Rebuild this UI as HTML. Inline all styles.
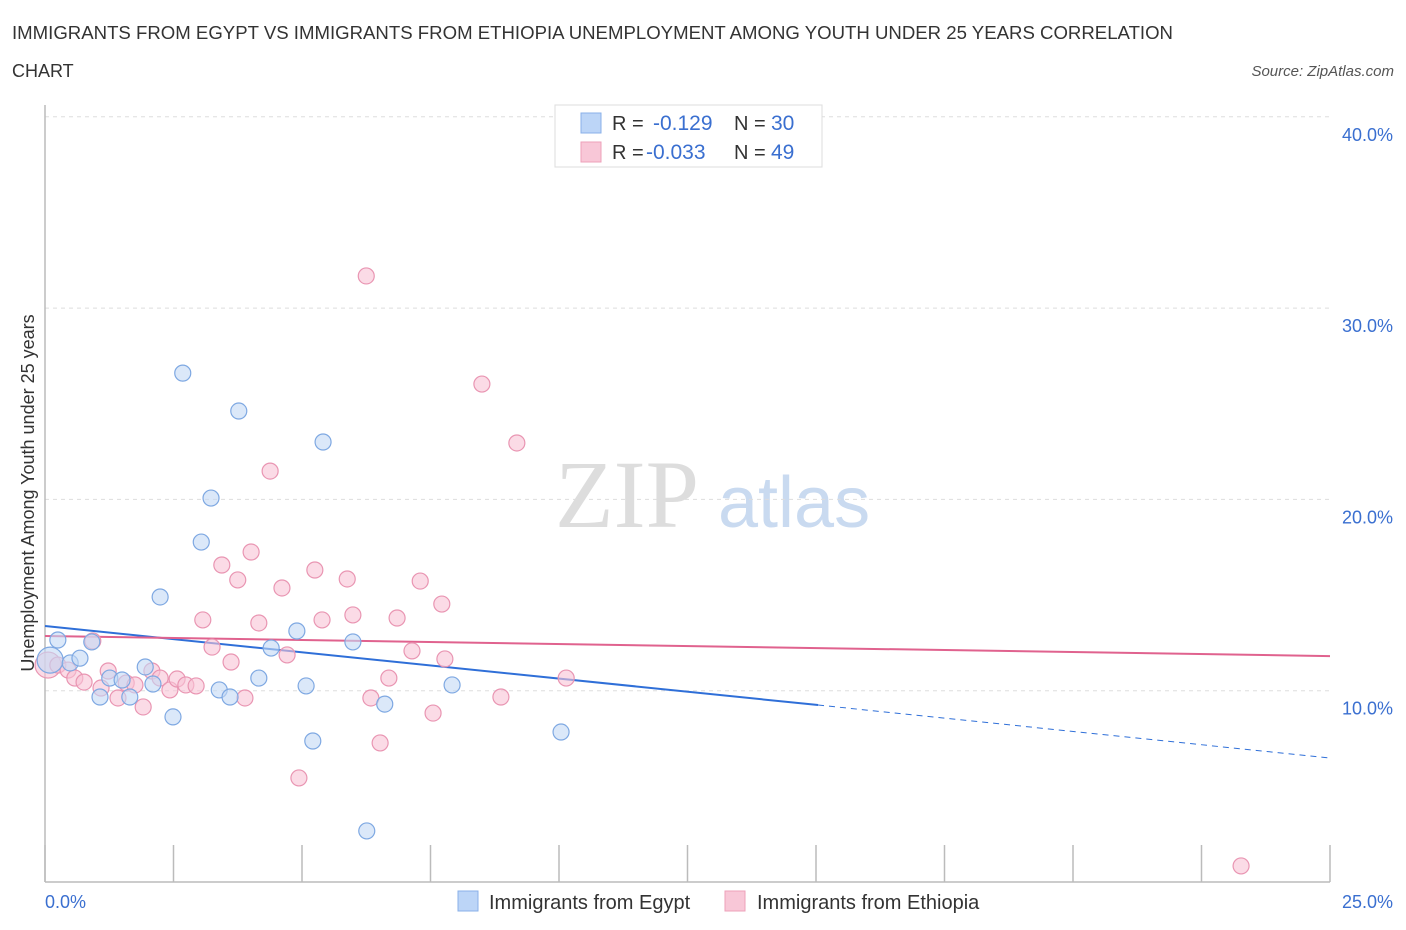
<!DOCTYPE html>
<html><head><meta charset="utf-8"><style>
body{margin:0;background:#fff;font-family:"Liberation Sans",sans-serif;}
svg{display:block}
</style></head><body>
<svg id="c" width="1406" height="930" xmlns="http://www.w3.org/2000/svg">
<text x="12" y="39" font-size="18" fill="#333" textLength="1161" lengthAdjust="spacingAndGlyphs">IMMIGRANTS FROM EGYPT VS IMMIGRANTS FROM ETHIOPIA UNEMPLOYMENT AMONG YOUTH UNDER 25 YEARS CORRELATION</text>
<text x="12" y="77" font-size="18" fill="#333">CHART</text>
<text x="1394" y="76" font-size="15" fill="#555" font-style="italic" text-anchor="end">Source: ZipAtlas.com</text>
<g>
<text x="555" y="527" font-size="96" font-family="Liberation Serif,serif" fill="#ddd">ZIP</text>
<text x="718" y="527" font-size="72" fill="#c9daf0">atlas</text>
</g>
<g id="grid"></g>
<g id="axes"></g>
<g id="lines"></g>
<g id="pts"></g>
<text transform="translate(34,493) rotate(-90)" font-size="18" fill="#333" text-anchor="middle">Unemployment Among Youth under 25 years</text>
<text x="45" y="908" font-size="18" fill="#3a6fd0">0.0%</text>
<text x="1393" y="908" font-size="18" fill="#3a6fd0" text-anchor="end">25.0%</text>
<g>
<rect x="555" y="105" width="267" height="62" fill="#fff" stroke="#ddd"/>
<rect x="581" y="113" width="20" height="20" fill="#bcd5f7" stroke="#8ab0e8"/>
<rect x="581" y="142" width="20" height="20" fill="#f8c7d7" stroke="#eea0ba"/>
<text x="612" y="130" font-size="20" fill="#333">R =</text>
<text x="653" y="130" font-size="21" fill="#3a6fd0">-0.129</text>
<text x="734" y="130" font-size="20" fill="#333">N =</text>
<text x="771" y="130" font-size="21" fill="#3a6fd0">30</text>
<text x="612" y="159" font-size="20" fill="#333">R =</text>
<text x="646" y="159" font-size="21" fill="#3a6fd0">-0.033</text>
<text x="734" y="159" font-size="20" fill="#333">N =</text>
<text x="771" y="159" font-size="21" fill="#3a6fd0">49</text>
</g>
<g>
<rect x="458" y="891" width="20" height="20" fill="#bcd5f7" stroke="#8ab0e8"/>
<text x="489" y="909" font-size="20" fill="#333">Immigrants from Egypt</text>
<rect x="725" y="891" width="20" height="20" fill="#f8c7d7" stroke="#eea0ba"/>
<text x="757" y="909" font-size="20" fill="#333">Immigrants from Ethiopia</text>
</g>
</svg>
<script>
const yTicks=[10,20,30,40];
const yTickLabels=["10.0%","20.0%","30.0%","40.0%"];
const xTicks=[0,2.5,5,7.5,10,12.5,15,17.5,20,22.5,25];
const egyptX=[0.1,0.25,0.49,0.68,0.91,1.07,1.26,1.5,1.65,1.95,2.1,2.24,2.49,2.68,3.04,3.23,3.39,3.6,3.77,4.16,4.4,4.9,5.08,5.21,5.41,5.99,6.26,6.61,7.92,10.04];
const egyptY=[11.6,12.65,11.45,11.7,12.55,9.67,10.66,10.56,9.67,11.24,10.35,14.9,8.63,26.6,17.77,20.07,10.04,9.67,24.62,10.66,12.23,13.12,10.25,7.37,23.0,12.55,2.67,9.3,10.3,7.84];
const ethX=[0.06,0.25,0.45,0.58,0.76,0.93,1.09,1.23,1.42,1.58,1.75,1.91,2.08,2.24,2.43,2.57,2.74,2.94,3.07,3.25,3.44,3.62,3.75,3.89,4.01,4.16,4.38,4.61,4.71,4.94,5.25,5.39,5.88,5.99,6.25,6.34,6.52,6.69,6.85,7.14,7.3,7.55,7.72,7.78,8.5,8.87,9.18,10.14,23.27];
const ethY=[11.34,11.34,11.08,10.66,10.45,12.6,10.14,11.03,9.62,10.4,10.3,9.15,11.03,10.66,10.04,10.61,10.3,10.25,13.7,12.28,16.57,11.5,15.79,9.62,17.25,13.54,21.48,15.37,11.87,5.44,16.31,13.7,15.84,13.96,31.68,9.62,7.27,10.66,13.8,12.08,15.73,8.83,14.53,11.66,26.03,9.67,22.95,10.66,0.84];
const egyptTrend=[13.38,9.25,6.48];
const egyptTrendX=[0,15.04,25];
const ethTrend=[12.86,11.81];
const ethTrendX=[0,25];
const NS="http://www.w3.org/2000/svg";
const sx=v=>45+v*51.4, sy=v=>882-v*19.13;
function mk(t,a,p){const e=document.createElementNS(NS,t);for(const k in a)e.setAttribute(k,a[k]);document.getElementById(p).appendChild(e);return e;}
yTicks.forEach((v,i)=>{
 const l=mk('line',{x1:45,x2:1330,y1:sy(v),y2:sy(v),stroke:'#ddd','stroke-dasharray':'4,4'},'grid');
 
 
 const t=mk('text',{x:1393,y:sy(v)+24,'font-size':18,fill:'#3a6fd0','text-anchor':'end'},'grid');
 t.textContent=yTickLabels[i];
 
 
});
const ax=mk('line',{x1:45,x2:45,y1:105,y2:882,stroke:'#bbb','stroke-width':1.5},'axes');


const bx=mk('line',{x1:45,x2:1330,y1:882,y2:882,stroke:'#bbb','stroke-width':1.5},'axes');


xTicks.forEach(v=>{
 const t=mk('line',{x1:sx(v),x2:sx(v),y1:845,y2:882,stroke:'#bbb','stroke-width':1.5},'axes');
 
 
});
function pts(X,Y,fill,stroke,name){X.forEach((x,i)=>{
 const r=(i===0)?13:8;
 const c=mk('circle',{cx:sx(x),cy:sy(Y[i]),r:r,fill:fill,'fill-opacity':0.6,stroke:stroke,'stroke-width':1.2},'pts');
 
 
});}
pts(ethX,ethY,'#f8c3d5','#e995b2','point-ethiopia');
pts(egyptX,egyptY,'#c3d8f5','#7ea8e2','point-egypt');
const l1=mk('line',{x1:sx(egyptTrendX[0]),y1:sy(egyptTrend[0]),x2:sx(egyptTrendX[1]),y2:sy(egyptTrend[1]),stroke:'#2f6fd8','stroke-width':2},'lines');


const l2=mk('line',{x1:sx(egyptTrendX[1]),y1:sy(egyptTrend[1]),x2:sx(egyptTrendX[2]),y2:sy(egyptTrend[2]),stroke:'#2f6fd8','stroke-width':1,'stroke-dasharray':'6,5'},'lines');


const l3=mk('line',{x1:sx(ethTrendX[0]),y1:sy(ethTrend[0]),x2:sx(ethTrendX[1]),y2:sy(ethTrend[1]),stroke:'#e0628e','stroke-width':2},'lines');


</script>
</body></html>
